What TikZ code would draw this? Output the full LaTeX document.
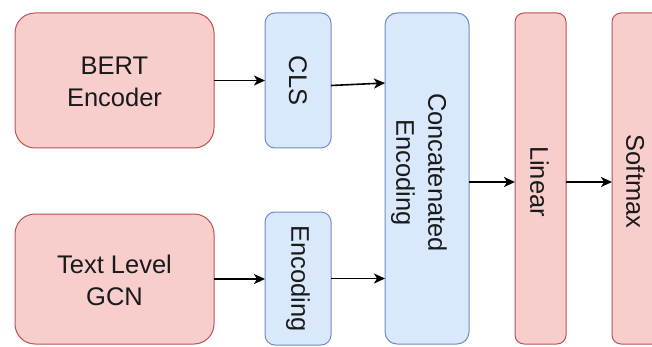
\documentclass[tikz,border=0pt]{standalone}
\usepackage{fontspec}
\setmainfont{Liberation Sans}
\usetikzlibrary{arrows.meta,calc}
\definecolor{pinkfill}{HTML}{F8CECC}
\definecolor{pinkline}{HTML}{B85450}
\definecolor{bluefill}{HTML}{DAE8FC}
\definecolor{blueline}{HTML}{6C8EBF}
\definecolor{txtcol}{HTML}{1A1A1A}
\begin{document}
\begin{tikzpicture}[x=1pt,y=-1pt,
  pinkbox/.style={draw=pinkline, fill=pinkfill, line width=1pt, inner sep=0pt, outer sep=0pt},
  bluebox/.style={draw=blueline, fill=bluefill, line width=1pt, inner sep=0pt, outer sep=0pt},
  lbl/.style={text=txtcol, align=center, inner sep=0pt, font=\fontsize{25.5}{32}\selectfont},
  vlbl/.style={lbl, rotate=-90},
  arr/.style={line width=1.6pt, -{Stealth[length=11pt,width=10pt,inset=3pt]}}]
\useasboundingbox (0,0) rectangle (652,347);
\clip (0,0) rectangle (652,347);
\fill[white] (0,0) rectangle (652,347);
% left column
\node[pinkbox, minimum width=199pt, minimum height=135pt, rounded corners=20pt] (bert) at (114.5,80.5) {};
\node[lbl] at ($(bert)+(0,1.5)$) {BERT\\Encoder};
\node[pinkbox, minimum width=199pt, minimum height=130pt, rounded corners=20pt] (gcn) at (114.5,279) {};
\node[lbl] at ($(gcn)+(0,1)$) {Text Level\\GCN};
% second column
\node[bluebox, minimum width=66pt, minimum height=135pt, rounded corners=10pt] (cls) at (298,80.5) {};
\node[vlbl] at (cls) {CLS};
\node[bluebox, minimum width=66pt, minimum height=133pt, rounded corners=10pt] (enc) at (298,278.5) {};
\node[vlbl] at (enc) {Encoding};
% concatenated
\node[bluebox, minimum width=84pt, minimum height=331pt, rounded corners=12pt] (concat) at (427,178.5) {};
\node[vlbl] at ($(concat)+(-8,-6)$) {Concatenated\\Encoding};
% linear and softmax
\node[pinkbox, minimum width=51pt, minimum height=331pt, rounded corners=9pt] (linear) at (540.5,178.5) {};
\node[vlbl] at ($(linear)+(-1,3)$) {Linear};
\node[pinkbox, minimum width=51pt, minimum height=331pt, rounded corners=9pt] (softmax) at (637.5,178.5) {};
\node[vlbl] at ($(softmax)+(-2,3)$) {Softmax};
% connectors
\draw[arr] (bert.east) -- (cls.west);
\draw[arr] (gcn.east) -- (enc.west |- gcn.east);
\draw[arr] ($(cls.east)+(0,5)$) -- ($(concat.west |- cls.east)+(0,2.5)$);
\draw[arr] (enc.east) -- (concat.west |- enc.east);
\draw[arr] ($(concat.east)+(0,3.5)$) -- ($(linear.west)+(0,3.5)$);
\draw[arr] ($(linear.east)+(0,3.5)$) -- ($(softmax.west)+(0,3.5)$);
\end{tikzpicture}
\end{document}
